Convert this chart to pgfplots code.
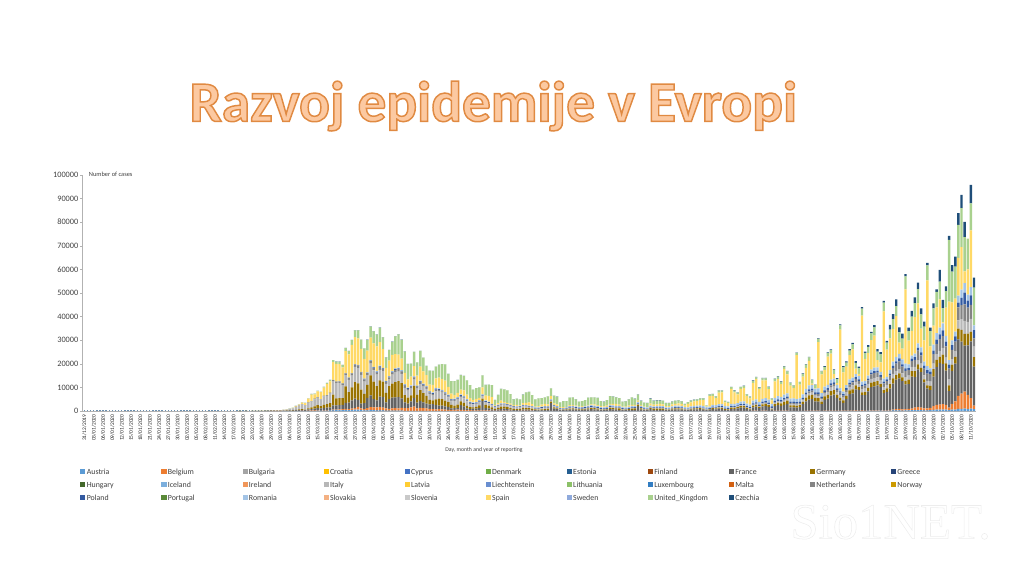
\documentclass[border=0pt]{standalone}
\usepackage{fontspec}
\setmainfont{Carlito}
\newfontfamily\wmfont{Liberation Serif}
\usepackage{pgfplots}
\usepackage{pgfplotstable}
\pgfplotsset{compat=1.18}
\definecolor{txt}{HTML}{404040}
\definecolor{cAustria}{HTML}{5B9BD5}\definecolor{cBelgium}{HTML}{ED7D31}\definecolor{cBulgaria}{HTML}{A5A5A5}
\definecolor{cCroatia}{HTML}{FFC000}\definecolor{cCyprus}{HTML}{4472C4}\definecolor{cDenmark}{HTML}{70AD47}
\definecolor{cEstonia}{HTML}{255E91}\definecolor{cFinland}{HTML}{9E480E}\definecolor{cFrance}{HTML}{636363}
\definecolor{cGermany}{HTML}{997300}\definecolor{cGreece}{HTML}{264478}\definecolor{cHungary}{HTML}{43682B}
\definecolor{cIceland}{HTML}{7CAFDD}\definecolor{cIreland}{HTML}{F1975A}\definecolor{cItaly}{HTML}{B7B7B7}
\definecolor{cLatvia}{HTML}{FFCD33}\definecolor{cLiecht}{HTML}{698ED0}\definecolor{cLithuania}{HTML}{8CC168}
\definecolor{cLuxembourg}{HTML}{327DC2}\definecolor{cMalta}{HTML}{D26012}\definecolor{cNetherlands}{HTML}{848484}
\definecolor{cNorway}{HTML}{CC9A00}\definecolor{cPoland}{HTML}{335AA1}\definecolor{cPortugal}{HTML}{5A8A39}
\definecolor{cRomania}{HTML}{A3C4E6}\definecolor{cSlovakia}{HTML}{F4B183}\definecolor{cSlovenia}{HTML}{C9C9C9}
\definecolor{cSpain}{HTML}{FFD966}\definecolor{cSweden}{HTML}{8FAADC}\definecolor{cUK}{HTML}{A9D18E}\definecolor{cCzechia}{HTML}{1F4E79}
\pgfplotstableread{
d A B F G I N P R S U C
50 0 0 2 2 5 0 0 0 0 2 0
52 0 0 3 2 10 0 0 0 0 2 0
54 0 0 3 2 20 0 0 0 0 2 0
55 0 0 3 5 30 0 0 0 0 2 0
56 0 0 10 5 60 0 0 0 0 2 0
57 0 0 15 10 70 0 0 0 5 2 0
58 0 0 20 15 90 0 0 0 5 5 0
59 0 0 20 20 110 5 0 0 10 5 0
60 2 2 25 25 160 5 0 0 15 5 0
61 2 2 30 30 200 5 0 0 20 10 0
62 2 2 30 30 210 5 0 0 15 10 0
63 2 2 40 30 280 5 0 0 30 10 0
64 3 3 50 40 350 5 0 0 40 10 0
65 5 10 70 60 480 10 0 0 50 15 0
66 10 20 100 150 550 20 0 5 100 30 0
67 15 30 150 180 750 30 0 5 200 50 0
68 20 40 200 250 1200 50 0 5 350 60 5
69 30 60 300 300 1500 80 0 5 450 70 5
70 50 70 350 300 2000 100 5 5 700 80 10
71 30 50 300 200 1800 80 5 5 900 100 10
72 60 100 500 450 2300 100 10 5 1700 100 20
73 80 150 600 700 2500 150 5 5 2800 200 20
74 100 150 800 900 3000 150 10 5 1900 350 20
75 150 200 900 1200 3200 200 10 10 2400 250 30
76 130 150 800 1000 2800 150 20 10 2900 150 30
77 150 200 1000 1300 3500 200 20 10 3500 350 40
78 200 220 1000 1500 3500 250 20 15 4800 350 40
79 220 250 1100 1800 4000 300 30 20 4800 650 50
80 300 300 1800 4500 5800 400 30 20 7600 800 50
81 350 250 1800 3000 6500 500 40 20 7500 1000 60
82 350 300 1800 3000 6500 550 40 20 7300 1000 70
83 400 350 1900 2800 5500 550 50 30 6900 1000 80
84 450 500 2500 7000 4800 600 50 40 9400 1300 80
85 400 400 2700 4500 5200 800 60 40 9900 1400 80
86 500 500 3500 5500 5000 900 60 60 12000 2000 90
87 600 600 4000 7000 6500 1000 100 100 11400 2900 100
88 600 1100 3000 7000 6500 1100 100 100 11300 3400 100
89 500 600 2000 6000 6200 1100 100 100 9700 3900 90
90 300 500 2500 4000 5200 900 200 100 8400 4400 80
91 300 900 4400 5500 4100 800 200 150 9200 4500 200
92 500 1100 5000 8500 5000 1000 250 200 9500 4700 100
93 400 1100 3500 7400 4800 1000 300 200 10000 5000 100
94 300 1200 3000 6000 4900 900 300 250 10500 5000 150
95 300 1300 4500 6900 4400 1200 300 300 10000 6000 100
96 250 1200 4500 6500 4400 1000 200 200 8000 5000 100
97 150 1000 2500 4000 3800 800 300 200 5500 4400 100
98 150 700 4200 5500 3000 700 350 200 6500 4500 70
99 150 1000 4500 6000 3800 800 300 300 6900 5500 100
100 150 1100 4500 6500 4200 1000 350 300 6000 7500 100
101 150 1000 4700 6800 4000 1100 350 300 5500 8600 100
102 150 1200 4000 6500 3900 1000 300 300 4800 8000 100
103 100 1100 2500 3000 3100 1000 300 250 4800 9000 100
104 70 1100 2000 2500 3000 700 300 200 3500 6500 100
105 80 1500 2500 2500 2900 800 300 250 3700 5500 50
106 100 1800 3700 5000 2700 900 250 200 4400 6000 50
107 100 1000 2500 3200 2700 800 300 200 4200 5600 50
108 100 1200 3000 4500 2600 800 350 300 6000 6600 50
109 100 1100 2500 3900 2700 700 300 300 5200 5800 50
110 80 1000 2000 3300 3000 700 300 300 4500 3900 50
111 60 800 1900 2000 2500 600 300 250 2800 5900 30
112 60 700 2200 1500 2300 500 350 250 3200 5900 30
113 70 600 1800 2500 3400 700 400 350 4000 5000 30
114 60 700 1500 3000 3000 700 350 300 4500 5500 30
115 60 600 1600 2800 2700 600 300 300 4600 6300 40
116 50 500 1400 2500 2400 600 300 300 4800 6900 40
117 50 400 1300 2000 2000 500 350 300 3300 5500 40
118 30 400 700 1500 1500 400 350 300 2200 5300 30
119 30 450 700 1100 2000 400 300 250 1500 5900 20
120 40 500 800 1400 2100 400 350 300 1800 5500 20
121 40 400 2000 1600 2000 400 300 300 2000 6200 20
122 40 400 1500 1500 1900 400 400 250 2300 6200 20
123 40 300 800 1000 1900 350 300 300 1900 6100 10
124 30 300 500 800 1400 300 300 300 1500 5500 10
125 20 250 700 600 1200 250 350 300 1000 4400 10
126 20 300 700 700 1300 200 300 250 1400 4500 10
127 20 300 1000 1100 1400 200 300 250 1000 4400 20
128 20 250 4000 1000 1000 200 350 200 3000 5100 30
129 20 300 1000 1300 1100 200 300 250 2000 4600 10
130 20 250 800 1200 1000 200 300 250 2400 4800 10
131 20 150 500 900 800 150 300 200 2900 5000 10
132 10 150 300 400 700 100 300 200 300 2200 10
133 10 200 500 600 800 150 200 200 700 3500 10
134 10 200 700 900 800 150 300 200 1100 5000 10
135 10 150 800 900 800 100 300 200 600 5300 10
136 10 150 600 900 700 100 300 200 500 5300 10
137 10 100 500 600 800 100 300 200 500 4000 10
138 10 70 300 500 800 100 200 200 400 2400 10
139 10 80 300 400 650 80 200 200 700 2600 10
140 10 100 250 500 800 80 200 150 300 2500 10
141 10 150 500 700 650 80 300 200 800 3600 10
142 10 150 400 700 650 80 300 200 1000 4400 10
143 10 100 500 600 550 60 300 200 1300 4500 10
144 10 100 400 500 500 60 300 200 800 3900 10
145 10 50 300 300 350 50 300 150 300 3100 10
146 10 50 250 300 300 50 350 200 600 3200 10
147 10 60 200 400 500 50 400 200 900 2700 10
148 10 60 300 450 600 50 400 200 1000 2700 10
149 10 50 400 500 400 50 400 200 800 3400 10
150 10 50 3300 600 400 50 300 200 1400 3300 10
151 10 50 1000 500 350 40 400 200 700 3300 10
152 10 40 700 350 300 40 400 200 800 3200 10
153 10 20 300 200 200 30 400 150 300 2000 10
154 10 20 300 250 150 30 300 150 400 2600 10
155 10 30 400 300 200 30 400 200 200 2400 20
156 10 50 500 500 300 30 400 250 400 3250 10
157 10 50 600 500 300 30 400 300 300 3300 10
158 10 40 500 400 300 30 400 300 300 2700 10
159 10 30 400 300 200 30 400 300 200 2100 20
160 10 20 400 300 200 30 500 300 300 2100 20
161 10 30 500 350 200 30 500 300 300 2400 20
162 10 40 600 500 200 30 500 350 400 3000 20
163 10 50 700 500 250 30 500 400 400 2900 20
164 10 30 600 550 250 30 400 400 500 3000 30
165 10 30 500 500 200 30 400 450 400 3000 30
166 10 20 300 300 200 20 400 400 400 2100 30
167 10 20 300 250 150 20 400 400 400 1950 30
168 10 20 400 300 200 20 400 450 500 2300 20
169 10 30 800 600 300 30 300 500 500 3200 30
170 10 30 600 600 300 30 300 550 600 3100 60
171 10 30 500 600 250 30 300 500 800 2800 50
172 10 30 400 700 250 30 300 500 500 2700 50
173 10 20 300 300 200 20 350 400 300 2050 50
174 10 20 300 250 150 20 300 450 400 2200 60
175 10 20 400 350 150 20 300 500 500 2700 60
176 10 20 500 500 200 20 300 600 500 3100 60
177 10 20 500 600 150 20 300 600 400 2500 100
178 10 20 2000 650 200 20 300 700 500 2500 100
179 10 20 600 500 150 20 300 600 300 1800 100
180 10 20 300 300 150 20 300 500 300 1600 100
181 10 20 300 250 150 20 300 450 300 1500 100
182 10 20 900 400 150 20 300 500 800 2000 200
183 10 20 500 500 150 20 300 500 700 1600 150
184 10 20 500 450 200 20 300 550 800 1600 150
185 10 20 500 500 200 20 300 600 900 1400 150
186 10 20 500 500 200 20 300 500 800 1500 100
187 10 20 300 300 150 20 300 450 500 1250 100
188 10 20 300 250 150 20 300 500 500 1300 100
189 10 20 600 350 150 20 300 550 800 1200 100
190 10 20 700 400 200 20 300 600 800 1300 100
191 10 20 700 400 200 20 300 600 1000 1300 100
192 10 20 600 400 150 20 300 650 900 1000 100
193 10 20 300 250 150 20 300 600 600 700 50
194 10 20 300 200 150 20 300 550 1500 700 50
195 10 20 600 300 150 20 300 600 1700 700 100
196 10 20 700 350 150 20 300 650 1900 650 100
197 10 20 700 400 200 20 300 650 1900 700 100
198 10 20 800 400 200 20 300 650 2200 800 100
199 10 20 600 300 150 20 350 700 2500 700 100
200 10 20 300 200 150 20 300 700 300 400 30
201 10 20 400 250 180 30 300 700 4400 700 60
202 10 30 800 400 200 40 350 750 3800 800 100
203 10 30 700 400 200 40 300 800 3000 700 100
204 20 50 900 500 250 50 350 800 4900 800 100
205 20 50 800 500 250 50 350 850 5000 750 100
206 10 40 400 300 200 50 350 800 1500 600 50
207 10 40 300 300 150 50 350 800 1300 500 50
208 20 60 800 500 250 80 400 900 6400 700 100
209 20 60 700 600 250 80 400 950 4800 800 150
210 20 60 1000 600 250 90 400 950 3700 700 100
211 20 60 1300 700 300 100 450 1050 5400 700 150
212 20 70 1300 700 300 100 450 1150 5700 800 200
213 20 60 800 400 200 100 450 1100 3200 700 100
214 20 50 500 300 200 100 500 1050 2600 700 50
215 30 100 1400 800 250 150 550 1150 7500 800 300
216 30 100 1700 800 300 150 600 1200 8600 800 200
217 20 60 1100 600 250 150 550 1100 5400 700 150
218 30 100 1800 900 300 200 600 1200 7800 900 200
219 30 100 1900 1000 350 200 600 1250 7600 800 200
220 20 80 1600 800 300 200 600 1200 4500 800 200
221 10 40 500 400 200 200 600 1100 1500 700 100
222 30 80 2000 800 400 300 700 1300 6900 1000 200
223 40 90 2400 1000 450 300 700 1350 7200 1000 200
224 30 80 2100 1000 450 300 700 1300 5400 1000 200
225 50 100 2500 1200 550 400 700 1400 10900 1000 200
226 50 100 2900 1300 600 400 750 1400 8000 1300 200
227 30 60 1500 800 500 400 700 1300 5500 1100 150
228 20 50 1500 800 500 450 700 1300 4500 950 100
229 30 50 1300 800 500 400 650 1300 18600 1000 100
230 30 50 1600 800 450 400 650 1400 5800 1100 100
231 40 60 2800 1000 600 450 650 1450 7500 1200 150
232 50 70 4000 1500 850 600 700 1600 8900 1400 200
233 60 80 4700 1800 1000 700 800 1700 10400 1500 200
234 60 80 4900 1800 1000 800 750 1700 500 1500 200
235 50 60 4000 1500 900 700 700 1600 200 1300 200
236 60 80 3800 1500 1000 700 750 1700 19600 1400 200
237 40 60 2800 1100 900 600 600 1500 7900 1300 200
238 60 90 4600 1500 1100 700 700 1600 7100 1300 250
239 60 90 5100 1600 1300 800 700 1400 12000 1500 300
240 70 100 6300 2000 1400 1000 800 1600 11000 1500 300
241 70 100 6800 1900 1500 1000 800 1500 2000 1700 300
242 50 70 5400 1300 1200 900 700 1400 800 1700 400
243 60 90 4200 1200 1300 900 600 1300 24800 1800 450
244 50 70 3300 1100 1200 800 600 1100 8200 2100 500
245 70 90 5000 1300 1500 1000 700 1300 7800 1700 550
246 80 110 7000 1500 1400 1100 700 1500 10300 1900 600
247 90 120 7300 1700 1700 1200 700 1300 12000 2100 700
248 100 120 8900 1700 1500 1300 700 1300 2300 2500 700
249 70 100 8800 1200 1300 1200 700 1400 1000 2400 600
250 90 130 6500 1200 1400 1200 600 1300 28000 3000 550
251 80 120 6500 1300 1500 1300 700 1300 9300 2500 600
252 120 160 8000 1500 1700 1500 700 1300 9500 2700 700
253 150 200 9800 1900 1600 1900 700 1300 12500 2800 650
254 170 220 10000 2000 1700 2000 800 1500 13500 3500 1000
255 170 240 10500 1700 1600 2000 800 1500 3000 3600 1100
256 120 180 9800 1300 1500 1600 700 1400 4000 3400 1000
257 130 200 7200 1300 1400 1500 700 1300 28500 3700 700
258 150 250 7700 1500 1500 1600 700 1100 11500 3000 700
259 200 300 9000 1900 1800 1800 800 1500 13500 3700 2000
260 220 400 11000 2200 1900 2500 900 1800 13900 4100 2100
261 250 500 12500 2000 1800 3000 1000 1800 17400 4200 2800
262 250 600 13000 2100 1800 3300 1200 2000 4700 4400 2100
263 200 500 12000 1500 1700 2900 1000 2100 4500 4300 2100
264 250 500 10500 1500 1600 2700 1000 2000 31500 5500 1000
265 300 600 10500 1900 1700 2300 900 1600 10000 4100 1400
266 350 700 13500 2300 1800 2500 1000 1300 10500 6000 2500
267 400 1000 13000 2500 1800 3000 1100 1500 15500 5900 2500
268 400 1200 16000 2200 1800 4000 1200 1900 16900 6000 2800
269 350 1100 15000 1800 1800 3500 1300 2100 8000 6000 2500
270 300 800 11000 1300 1700 2900 1200 1700 9000 5900 2100
271 300 800 8500 1300 1900 3000 1500 1700 36300 6400 1100
272 350 1000 7500 1800 1800 3200 1000 1400 9350 6500 1400
273 500 1600 12500 3100 2400 4000 1500 2500 8100 7300 2100
274 550 2000 16000 3100 2400 4400 1800 2700 11000 6500 1100
275 550 2200 17500 2700 2500 5000 2000 2900 12000 7500 4900
276 600 2300 17000 4000 2800 5000 2500 2900 500 6000 3500
277 550 2100 14500 3000 2500 4700 2000 2500 12000 6900 2100
278 400 1000 7000 2500 2600 4500 1700 1900 24800 26100 1700
279 550 2500 14000 2600 2300 4000 2000 2000 16100 13000 2800
280 600 3500 16000 2800 2500 4000 2200 2000 14000 13600 4200
281 900 5500 24000 4500 3500 5500 2000 3000 16000 14000 4900
282 900 6500 22000 5000 4500 6000 3000 3500 18000 16600 5600
283 1000 7200 19500 5000 5500 7000 5000 4000 5000 14500 6400
284 800 6000 21000 5000 5000 6000 3000 2500 10700 13000 0
285 1000 4500 24000 4000 5500 6000 4000 3500 24000 11500 7800
286 800 1500 16500 4000 4500 3500 3500 2000 0 16000 4200
}\cases
\begin{document}
\begin{tikzpicture}[x=1pt,y=1pt]
\path[use as bounding box] (0,0) rectangle (768,432);
\begin{axis}[
  at={(63.3pt,123.75pt)}, anchor=origin,
  scale only axis, width=670.2pt, height=177pt,
  ybar stacked, bar width=1.8pt,
  xmin=-0.5, xmax=286.8, ymin=0, ymax=100000,
  axis x line*=bottom, axis y line*=left,
  axis line style={draw=black!30, line width=0.6pt},
  xtick={0,3,...,285},
  minor x tick num=2,
  xticklabels={31/12/2019,03/01/2020,06/01/2020,09/01/2020,12/01/2020,15/01/2020,18/01/2020,21/01/2020,24/01/2020,27/01/2020,30/01/2020,02/02/2020,05/02/2020,08/02/2020,11/02/2020,14/02/2020,17/02/2020,20/02/2020,23/02/2020,26/02/2020,29/02/2020,03/03/2020,06/03/2020,09/03/2020,12/03/2020,15/03/2020,18/03/2020,21/03/2020,24/03/2020,27/03/2020,30/03/2020,02/04/2020,05/04/2020,08/04/2020,11/04/2020,14/04/2020,17/04/2020,20/04/2020,23/04/2020,26/04/2020,29/04/2020,02/05/2020,05/05/2020,08/05/2020,11/05/2020,14/05/2020,17/05/2020,20/05/2020,23/05/2020,26/05/2020,29/05/2020,01/06/2020,04/06/2020,07/06/2020,10/06/2020,13/06/2020,16/06/2020,19/06/2020,22/06/2020,25/06/2020,28/06/2020,01/07/2020,04/07/2020,07/07/2020,10/07/2020,13/07/2020,16/07/2020,19/07/2020,22/07/2020,25/07/2020,28/07/2020,31/07/2020,03/08/2020,06/08/2020,09/08/2020,12/08/2020,15/08/2020,18/08/2020,21/08/2020,24/08/2020,27/08/2020,30/08/2020,02/09/2020,05/09/2020,08/09/2020,11/09/2020,14/09/2020,17/09/2020,20/09/2020,23/09/2020,26/09/2020,29/09/2020,02/10/2020,05/10/2020,08/10/2020,11/10/2020},
  xticklabel style={rotate=90, anchor=east, font=\fontsize{4.1}{4.5}\selectfont, text=black!85, inner sep=1.6pt},
  x tick style={draw=cAustria!55!gray, line width=1.1pt},
  minor x tick style={draw=cAustria!55!gray, line width=1.1pt},
  ytick={0,10000,...,100000},
  y tick style={draw=black!30, line width=0.4pt},
  tick align=outside, xtick align=center, major tick length=1.8pt, minor tick length=1.8pt,
  scaled y ticks=false,
  yticklabel style={/pgf/number format/.cd, fixed, 1000 sep={}, assume math mode=true, /tikz/.cd, font=\fontsize{6.2}{7}\selectfont, text=txt, inner sep=1.4pt},
  legend columns=11,
  legend cell align=left,
  legend style={draw=none, fill=none, at={(-0.003,-0.232)}, anchor=north west,
    font=\fontsize{5.9}{7}\selectfont, text=txt, row sep=2.1pt, inner sep=0pt,
    /tikz/every even column/.append style={column sep=0pt},
    nodes={inner sep=1pt, text depth=0.9pt, text height=5pt}},
  legend image code/.code={\fill[#1,draw=none] (0pt,-1.9pt) rectangle (3.8pt,1.9pt);},
]
\addplot[fill=cAustria,draw=none] table[x=d,y=A]{\cases}; \addlegendentry{\makebox[55pt][l]{Austria}}
\addplot[fill=cBelgium,draw=none] table[x=d,y=B]{\cases}; \addlegendentry{\makebox[55pt][l]{Belgium}}
\addlegendimage{fill=cBulgaria} \addlegendentry{\makebox[55pt][l]{Bulgaria}}
\addlegendimage{fill=cCroatia} \addlegendentry{\makebox[55pt][l]{Croatia}}
\addlegendimage{fill=cCyprus} \addlegendentry{\makebox[55pt][l]{Cyprus}}
\addlegendimage{fill=cDenmark} \addlegendentry{\makebox[55pt][l]{Denmark}}
\addlegendimage{fill=cEstonia} \addlegendentry{\makebox[55pt][l]{Estonia}}
\addlegendimage{fill=cFinland} \addlegendentry{\makebox[55pt][l]{Finland}}
\addplot[fill=cFrance,draw=none] table[x=d,y=F]{\cases}; \addlegendentry{\makebox[55pt][l]{France}}
\addplot[fill=cGermany,draw=none] table[x=d,y=G]{\cases}; \addlegendentry{\makebox[55pt][l]{Germany}}
\addlegendimage{fill=cGreece} \addlegendentry{\makebox[55pt][l]{Greece}}
\addlegendimage{fill=cHungary} \addlegendentry{\makebox[55pt][l]{Hungary}}
\addlegendimage{fill=cIceland} \addlegendentry{\makebox[55pt][l]{Iceland}}
\addlegendimage{fill=cIreland} \addlegendentry{\makebox[55pt][l]{Ireland}}
\addplot[fill=cItaly,draw=none] table[x=d,y=I]{\cases}; \addlegendentry{\makebox[55pt][l]{Italy}}
\addlegendimage{fill=cLatvia} \addlegendentry{\makebox[55pt][l]{Latvia}}
\addlegendimage{fill=cLiecht} \addlegendentry{\makebox[55pt][l]{Liechtenstein}}
\addlegendimage{fill=cLithuania} \addlegendentry{\makebox[55pt][l]{Lithuania}}
\addlegendimage{fill=cLuxembourg} \addlegendentry{\makebox[55pt][l]{Luxembourg}}
\addlegendimage{fill=cMalta} \addlegendentry{\makebox[55pt][l]{Malta}}
\addplot[fill=cNetherlands,draw=none] table[x=d,y=N]{\cases}; \addlegendentry{\makebox[55pt][l]{Netherlands}}
\addlegendimage{fill=cNorway} \addlegendentry{\makebox[55pt][l]{Norway}}
\addplot[fill=cPoland,draw=none] table[x=d,y=P]{\cases}; \addlegendentry{\makebox[55pt][l]{Poland}}
\addlegendimage{fill=cPortugal} \addlegendentry{\makebox[55pt][l]{Portugal}}
\addplot[fill=cRomania,draw=none] table[x=d,y=R]{\cases}; \addlegendentry{\makebox[55pt][l]{Romania}}
\addlegendimage{fill=cSlovakia} \addlegendentry{\makebox[55pt][l]{Slovakia}}
\addlegendimage{fill=cSlovenia} \addlegendentry{\makebox[55pt][l]{Slovenia}}
\addplot[fill=cSpain,draw=none] table[x=d,y=S]{\cases}; \addlegendentry{\makebox[55pt][l]{Spain}}
\addlegendimage{fill=cSweden} \addlegendentry{\makebox[55pt][l]{Sweden}}
\addplot[fill=cUK,draw=none] table[x=d,y=U]{\cases}; \addlegendentry{\makebox[55pt][l]{United\_Kingdom}}
\addplot[fill=cCzechia,draw=none] table[x=d,y=C]{\cases}; \addlegendentry{\makebox[55pt][l]{Czechia}}
\end{axis}
\node[anchor=west,font=\fontsize{4.8}{5.5}\selectfont,text=txt,inner sep=0pt] at (66.5,301.5) {Number of cases};
\node[font=\fontsize{4.3}{5}\selectfont,text=txt,inner sep=0pt] at (363,94.5) {Day, month and year of reporting};
\node[anchor=base,inner sep=0pt,font=\fontsize{43}{47}\selectfont\bfseries] at (370,341)
 {\special{pdf:code q 2 Tr 1.1 w 0.88 0.54 0.26 RG 0.99 0.79 0.63 rg}Razvoj epidemije v Evropi\special{pdf:code Q}};
\node[anchor=base,inner sep=0pt,font=\fontsize{38}{42}\selectfont\wmfont] at (668,28)
 {\special{pdf:code q 2 Tr 0.4 w 0.93 0.93 0.93 RG 1 1 1 rg}Sio1NET.\special{pdf:code Q}};
\end{tikzpicture}
\end{document}
